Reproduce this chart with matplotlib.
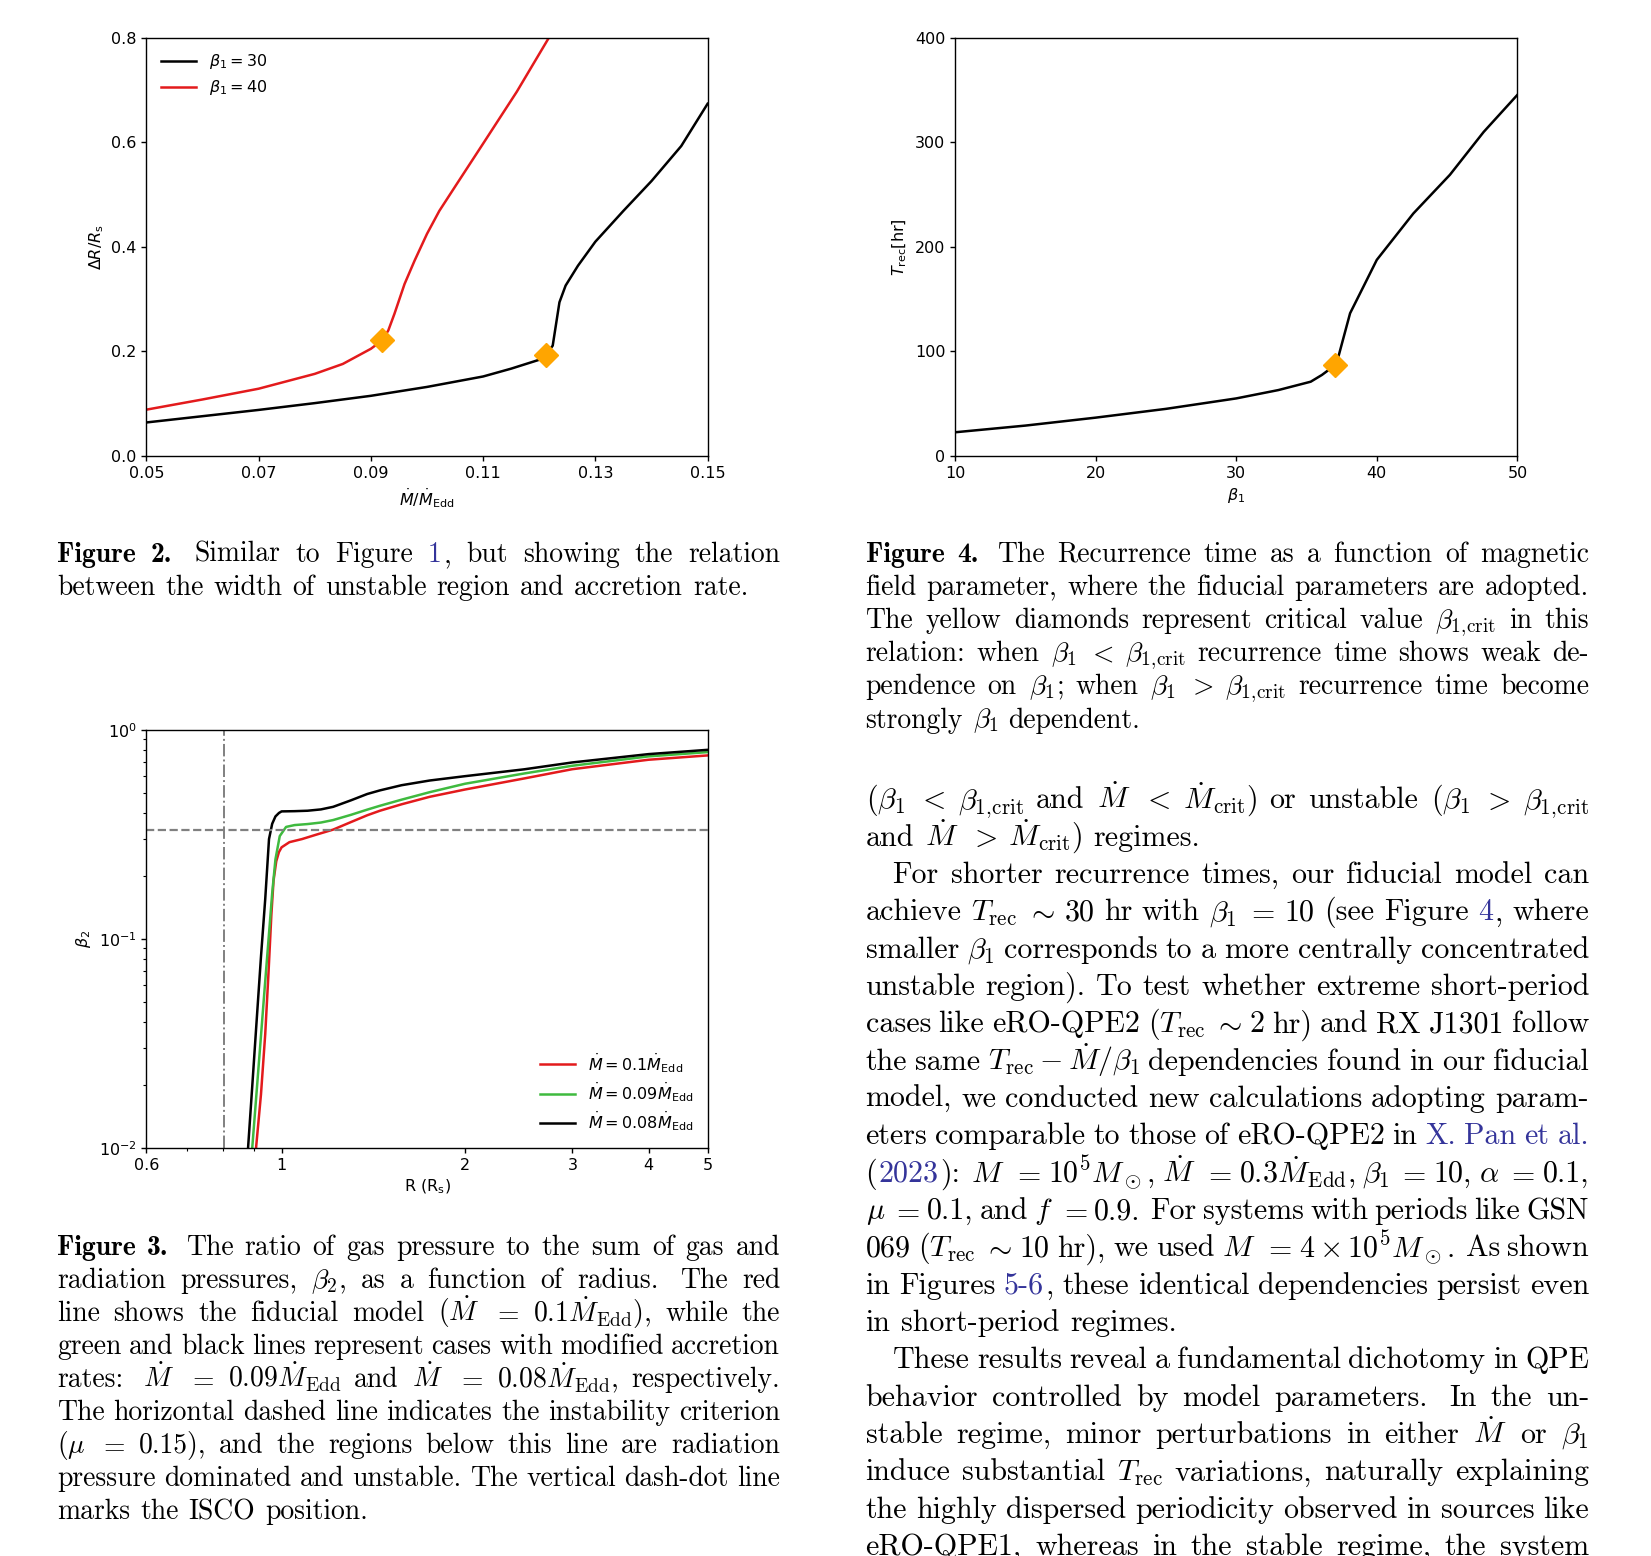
import re
import matplotlib
matplotlib.use("Agg")
import matplotlib.pyplot as plt
from matplotlib.ticker import FixedLocator, FixedFormatter, NullFormatter

# ---------------- data ----------------
# Figure 2: width of unstable region vs accretion rate
mdot_b30 = [0.05, 0.06, 0.07, 0.08, 0.09, 0.10, 0.11, 0.115, 0.12, 0.1212,
            0.1224, 0.1236, 0.1247, 0.1269, 0.130, 0.135, 0.140, 0.1453, 0.150]
dr_b30 = [0.064, 0.076, 0.088, 0.101, 0.115, 0.132, 0.152, 0.167, 0.184, 0.1935,
          0.211, 0.294, 0.326, 0.364, 0.41, 0.469, 0.526, 0.593, 0.674]
mdot_b40 = [0.05, 0.06, 0.07, 0.08, 0.085, 0.09, 0.092, 0.0931, 0.0942, 0.096,
            0.0978, 0.100, 0.1022, 0.1051, 0.1102, 0.116, 0.1217]
dr_b40 = [0.0885, 0.108, 0.1286, 0.157, 0.176, 0.205, 0.221, 0.24, 0.272, 0.329,
          0.374, 0.425, 0.469, 0.517, 0.601, 0.697, 0.80]
crit_mdot = [0.0920, 0.1212]
crit_dr = [0.221, 0.1935]

# Figure 4: recurrence time vs beta_1
beta1 = [10, 15, 20, 25, 30, 33, 35.3, 36.1, 37.05, 37.3, 38.1, 39.05, 40.0,
         42.6, 45.2, 47.6, 50]
trec = [22.6, 29, 36.6, 45, 55, 63, 71, 77.5, 87, 96.5, 136.5, 162, 187.6,
        232, 269, 310, 345.5]
beta1_crit = [37.05]
trec_crit = [87.0]

# Figure 3: beta_2 vs radius
r_01 = [0.908, 0.925, 0.94, 0.952, 0.962, 0.97, 0.98, 0.99, 1.0, 1.03, 1.08,
        1.14, 1.215, 1.3, 1.382, 1.45, 1.573, 1.75, 2.0, 2.5, 3.0, 4.0, 5.0]
b2_01 = [0.01, 0.018, 0.035, 0.07, 0.13, 0.19, 0.235, 0.26, 0.274, 0.29, 0.30,
         0.315, 0.333, 0.362, 0.39, 0.41, 0.44, 0.478, 0.518, 0.585, 0.648,
         0.719, 0.754]
r_009 = [0.895, 0.91, 0.925, 0.938, 0.952, 0.965, 0.977, 0.993, 1.017, 1.05,
         1.103, 1.16, 1.215, 1.3, 1.382, 1.45, 1.573, 1.75, 2.0, 2.5, 3.0,
         4.0, 5.0]
b2_009 = [0.01, 0.0186, 0.0343, 0.058, 0.10, 0.165, 0.24, 0.31, 0.343, 0.35,
          0.354, 0.36, 0.37, 0.392, 0.415, 0.433, 0.463, 0.503, 0.552, 0.618,
          0.673, 0.746, 0.782]
r_008 = [0.881, 0.895, 0.9085, 0.925, 0.94, 0.9535, 0.965, 0.977, 0.99, 1.0,
         1.05, 1.103, 1.16, 1.215, 1.3, 1.382, 1.45, 1.573, 1.75, 2.0, 2.5,
         3.0, 4.0, 5.0]
b2_008 = [0.01, 0.0197, 0.0378, 0.082, 0.155, 0.30, 0.355, 0.385, 0.40, 0.407,
          0.408, 0.41, 0.416, 0.428, 0.46, 0.493, 0.513, 0.543, 0.572, 0.60,
          0.647, 0.698, 0.765, 0.802]
r_isco = 0.805
beta2_crit = 0.33

# ---------------- page text ----------------
cap2 = [
    "#Figure #2.  Similar to Figure [1], but showing the relation",
    "between the width of unstable region and accretion rate.|",
]
cap4 = [
    "#Figure #4.  The Recurrence time as a function of magnetic",
    "field parameter, where the fiducial parameters are adopted.",
    r"The yellow diamonds represent critical value $\beta_{1,\!\mathrm{crit}}$ in this",
    r"relation: when $\beta_1$ $<$ $\beta_{1,\!\mathrm{crit}}$ recurrence time shows weak de-",
    r"pendence on $\beta_1$; when $\beta_1$ $>$ $\beta_{1,\!\mathrm{crit}}$ recurrence time become",
    r"strongly $\beta_1$ dependent.|",
]
cap3 = [
    "#Figure #3.  The ratio of gas pressure to the sum of gas and",
    r"radiation pressures, $\beta_2$, as a function of radius.  The red",
    r"line shows the fiducial model ($\dot{M}$ $=$ $0.1\dot{M}_\mathrm{Edd}$), while the",
    "green and black lines represent cases with modified accretion",
    r"rates:  $\dot{M}$ $=$ $0.09\dot{M}_\mathrm{Edd}$ and $\dot{M}$ $=$ $0.08\dot{M}_\mathrm{Edd}$, respectively.",
    "The horizontal dashed line indicates the instability criterion",
    r"($\mu$ $=$ 0.15), and the regions below this line are radiation",
    "pressure dominated and unstable. The vertical dash-dot line",
    "marks the ISCO position.|",
]
body = [
    r"($\beta_1$ $<$ $\beta_{1,\!\mathrm{crit}}$ and $\dot{M}$ $<$ $\dot{M}_\mathrm{crit}$) or unstable ($\beta_1$ $>$ $\beta_{1,\!\mathrm{crit}}$",
    r"and $\dot{M}$ $>$ $\dot{M}_\mathrm{crit}$) regimes.|",
    ">For shorter recurrence times, our fiducial model can",
    r"achieve $T_\mathrm{rec}$ $\sim$ 30 hr with $\beta_1$ $=$ 10 (see Figure [4], where",
    r"smaller $\beta_1$ corresponds to a more centrally concentrated",
    "unstable region). To test whether extreme short-period",
    r"cases like eRO-QPE2 ($T_\mathrm{rec}$ $\sim$ 2 hr) and RX J1301 follow",
    r"the same $T_\mathrm{rec}-\dot{M}/\beta_1$ dependencies found in our fiducial",
    "model, we conducted new calculations adopting param-",
    "eters comparable to those of eRO-QPE2 in [X.] [Pan] [et] [al.]",
    r"([2023]):  $M$ $=$ $10^5M_\odot$, $\dot{M}$ $=$ $0.3\dot{M}_\mathrm{Edd}$, $\beta_1$ $=$ 10, $\alpha$ $=$ 0.1,",
    r"$\mu$ $=$ 0.1, and $f$ $=$ 0.9.  For systems with periods like GSN",
    r"069 ($T_\mathrm{rec}$ $\sim$ 10 hr), we used $M$ $=$ $4\times10^5M_\odot$.  As shown",
    "in Figures [5-6], these identical dependencies persist even",
    "in short-period regimes.|",
    ">These results reveal a fundamental dichotomy in QPE",
    "behavior controlled by model parameters.  In the un-",
    r"stable regime, minor perturbations in either $\dot{M}$ or $\beta_1$",
    r"induce substantial $T_\mathrm{rec}$ variations, naturally explaining",
    "the highly dispersed periodicity observed in sources like",
    "eRO-QPE1, whereas in the stable regime, the system",
]

W, H = 1651, 1556
LINK = '#34349a'
RED = '#e31a1c'
GREEN = '#3fba3f'
ORANGE = '#ffa500'

plt.rcParams['axes.linewidth'] = 1.0
plt.rcParams['xtick.major.width'] = 1.0
plt.rcParams['ytick.major.width'] = 1.0
plt.rcParams['xtick.minor.width'] = 0.8
plt.rcParams['ytick.minor.width'] = 0.8

fig = plt.figure(figsize=(W / 100, H / 100), dpi=100)
FS = 11.5


def justify(lines, x0, x1, y0, dy, size, indent=27):
    r = fig.canvas.get_renderer()
    em = size * 100 / 72
    for k, line in enumerate(lines):
        y = y0 + k * dy
        ind = line.startswith('>')
        last = line.endswith('|')
        line = line.strip('>|')
        words, gaps = [], []
        for p in re.split(r'( +)', line):
            if not p:
                continue
            if p.startswith(' '):
                gaps.append(1 + 0.5 * (len(p) - 1))
            else:
                words.append(p)
        placed = []
        total = 0
        for w in words:
            fam = 'cmr10'
            if w.startswith('#'):
                fam, w = 'cmb10', w[1:]
            segs = []
            for s in re.split(r'(\[[^\]]*\])', w):
                if not s:
                    continue
                col = 'black'
                if s.startswith('['):
                    col, s = LINK, s[1:-1]
                t = fig.text(0, 0, s, fontsize=size, family=fam, color=col,
                             math_fontfamily='cm', ha='left', va='baseline')
                segs.append((t, t.get_window_extent(r).width))
            ww = sum(s[1] for s in segs) + 0.06 * em * (len(segs) - 1)
            placed.append((segs, ww))
            total += ww
        xs = x0 + (indent if ind else 0)
        if last or not gaps:
            unit = 0.36 * em
        else:
            unit = (x1 - xs - total) / sum(gaps)
        x = xs
        for i, (segs, ww) in enumerate(placed):
            sx = x
            for t, sw in segs:
                t.set_position((sx / W, 1 - y / H))
                sx += sw + 0.06 * em
            x += ww
            if i < len(gaps):
                x += unit * gaps[i]


# ---------------- Figure 2 panel ----------------
ax1 = fig.add_axes([146.4 / W, 1 - 455.9 / H, 561.2 / W, 418 / H])
ax1.plot(mdot_b30, dr_b30, color='black', lw=1.8, label=r'$\beta_1 = 30$')
ax1.plot(mdot_b40, dr_b40, color=RED, lw=1.8, label=r'$\beta_1 = 40$')
ax1.plot(crit_mdot, crit_dr, 'D', color=ORANGE, ms=12, zorder=5)
ax1.set_xlim(0.05, 0.15)
ax1.set_ylim(0, 0.8)
ax1.set_xticks([0.05, 0.07, 0.09, 0.11, 0.13, 0.15])
ax1.set_yticks([0.0, 0.2, 0.4, 0.6, 0.8])
ax1.tick_params(labelsize=FS)
ax1.set_xlabel(r'$\dot{M}/\dot{M}_{\rm Edd}$', fontsize=FS)
ax1.set_ylabel(r'$\Delta R/R_{\rm s}$', fontsize=FS)
ax1.legend(loc='upper left', frameon=False, fontsize=FS, handlelength=2.2,
           labelspacing=0.45)

# ---------------- Figure 4 panel ----------------
ax2 = fig.add_axes([955 / W, 1 - 455.9 / H, 562.4 / W, 418 / H])
ax2.plot(beta1, trec, color='black', lw=1.8)
ax2.plot(beta1_crit, trec_crit, 'D', color=ORANGE, ms=12, zorder=5)
ax2.set_xlim(10, 50)
ax2.set_ylim(0, 400)
ax2.set_xticks([10, 20, 30, 40, 50])
ax2.set_yticks([0, 100, 200, 300, 400])
ax2.tick_params(labelsize=FS)
ax2.set_xlabel(r'$\beta_1$', fontsize=FS)
ax2.set_ylabel(r'$T_{\rm rec}$[hr]', fontsize=FS)

# ---------------- Figure 3 panel ----------------
ax3 = fig.add_axes([146.4 / W, 1 - 1147.8 / H, 561.2 / W, 418 / H])
ax3.plot(r_01, b2_01, color=RED, lw=1.8, label=r'$\dot{M}=0.1\dot{M}_{\rm Edd}$')
ax3.plot(r_009, b2_009, color=GREEN, lw=1.8, label=r'$\dot{M}=0.09\dot{M}_{\rm Edd}$')
ax3.plot(r_008, b2_008, color='black', lw=1.8, label=r'$\dot{M}=0.08\dot{M}_{\rm Edd}$')
ax3.axhline(beta2_crit, color='gray', ls='--', lw=1.6)
ax3.axvline(r_isco, color='gray', ls='-.', lw=1.4)
ax3.set_xscale('log')
ax3.set_yscale('log')
ax3.set_xlim(0.6, 5)
ax3.set_ylim(1e-2, 1)
ax3.xaxis.set_major_locator(FixedLocator([0.6, 1, 2, 3, 4, 5]))
ax3.xaxis.set_major_formatter(FixedFormatter(['0.6', '1', '2', '3', '4', '5']))
ax3.xaxis.set_minor_locator(FixedLocator([0.7, 0.8, 0.9]))
ax3.xaxis.set_minor_formatter(NullFormatter())
ax3.tick_params(labelsize=FS)
ax3.set_xlabel(r'R (R$_{\rm s}$)', fontsize=FS)
ax3.set_ylabel(r'$\beta_2$', fontsize=FS)
ax3.legend(loc='lower right', frameon=False, fontsize=FS, handlelength=2.2,
           labelspacing=0.35)

# ---------------- captions and body text ----------------
justify(cap2, 57, 780, 562, 33.0, 19.9)
justify(cap4, 865.5, 1589, 562, 33.1, 19.9)
justify(cap3, 57, 780, 1255, 33.0, 19.9)
justify(body, 865.5, 1589, 808.5, 37.33, 21.6)

fig.savefig('out.png', dpi=100)
